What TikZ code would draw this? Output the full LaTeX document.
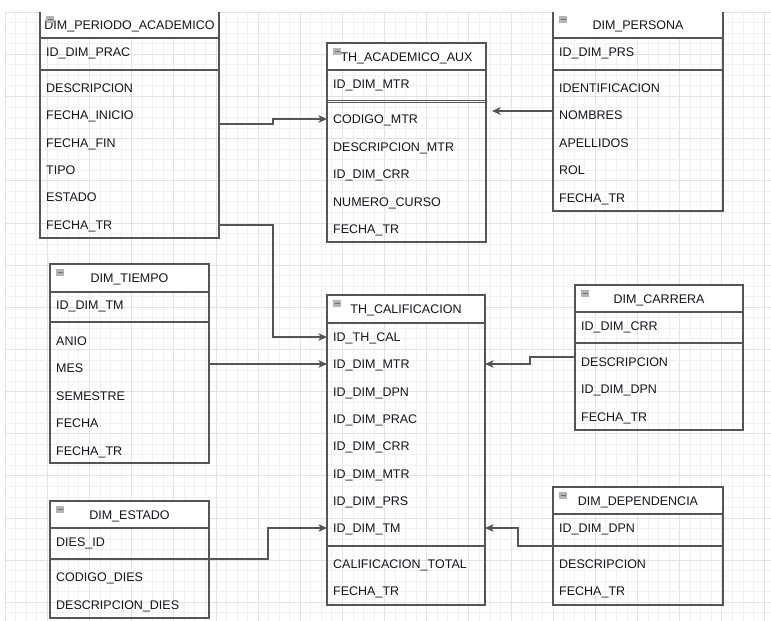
\documentclass[tikz,border=0pt]{standalone}
\usepackage{fontspec}
\setmainfont{Liberation Sans}
\usetikzlibrary{arrows.meta,calc}

\definecolor{edge}{HTML}{555555}
\definecolor{gminor}{HTML}{F1F1F1}
\definecolor{gmajor}{HTML}{E3E3E3}
\definecolor{txt}{HTML}{14141C}
\definecolor{iconfill}{HTML}{B4B4B4}
\definecolor{iconbar}{HTML}{6E6E6E}

\tikzset{
  tbl/.style={draw=edge, line width=1.1pt, anchor=north west, inner sep=0pt, outer sep=0pt},
  fld/.style={anchor=base west, inner sep=0pt, text=txt, font=\fontsize{12.5}{14}\selectfont},
  ttl/.style={anchor=base, inner sep=0pt, text=txt, font=\fontsize{12.5}{14}\selectfont},
  rule/.style={draw=edge, line width=1.1pt},
  link/.style={draw=edge, line width=1.15pt, -{Stealth[length=8.5pt,width=7.5pt,inset=2pt]}},
}

% header strip with title and collapse icon
\newcommand{\tblhead}[6]{% name, x1, x2, top, sep, title
  \fill[white] (#2,#4) rectangle (#3,#5);
  \node[ttl] (#1-title) at ({(#2+#3)/2},{(#4+#5)/2+4.5}) {#6};
  \fill[iconfill] ({#2+6},{#4+5}) rectangle ({#2+14},{#4+12});
  \draw[iconbar, line width=0.8pt] ({#2+7.5},{#4+8.5}) -- ({#2+12.5},{#4+8.5});
}
% one field row, y is the visual centre of the capitals
\newcommand{\fieldrow}[4]{% name, x1, y, text
  \node[fld] (#1) at ({#2+6},{#3+4.5}) {#4};
}

\begin{document}
\begin{tikzpicture}[x=1pt,y=-1pt]
\useasboundingbox (0,0) rectangle (771,621);

\begin{scope}
\clip (0,12) rectangle (771,621);

% background grid
\foreach \i in {0,...,73} {
  \pgfmathsetmacro{\gx}{5+10.54*\i}
  \pgfmathtruncatemacro{\maj}{mod(\i,4)==0}
  \ifnum\maj=1
    \draw[gmajor, line width=0.6pt] (\gx,12) -- (\gx,621);
  \else
    \draw[gminor, line width=0.6pt] (\gx,12) -- (\gx,621);
  \fi
}
\foreach \i in {0,...,58} {
  \pgfmathsetmacro{\gy}{12+10.54*\i}
  \pgfmathtruncatemacro{\maj}{mod(\i,4)==0}
  \ifnum\maj=1
    \draw[gmajor, line width=0.6pt] (5,\gy) -- (771,\gy);
  \else
    \draw[gminor, line width=0.6pt] (5,\gy) -- (771,\gy);
  \fi
}

% ---------- DIM_PERIODO_ACADEMICO ----------
\tblhead{periodo}{40}{219}{11}{38}{DIM\_PERIODO\_ACADEMICO}
\node[tbl, minimum width=179pt, minimum height=227pt] (periodo) at (40,11) {};
\draw[rule] (periodo.west |- 0,38) -- (periodo.east |- 0,38);
\draw[rule] (periodo.west |- 0,70) -- (periodo.east |- 0,70);
\fieldrow{p-id}{40}{52}{ID\_DIM\_PRAC}
\fieldrow{p-desc}{40}{88}{DESCRIPCION}
\fieldrow{p-ini}{40}{115}{FECHA\_INICIO}
\fieldrow{p-fin}{40}{143}{FECHA\_FIN}
\fieldrow{p-tipo}{40}{170}{TIPO}
\fieldrow{p-est}{40}{197}{ESTADO}
\fieldrow{p-ftr}{40}{225}{FECHA\_TR}

% ---------- TH_ACADEMICO_AUX ----------
\tblhead{acad}{327}{486}{43}{70}{TH\_ACADEMICO\_AUX}
\node[tbl, minimum width=159pt, minimum height=199pt] (acad) at (327,43) {};
\draw[rule] (acad.west |- 0,70) -- (acad.east |- 0,70);
\draw[draw=edge, line width=0.8pt] (acad.west |- 0,100) -- (acad.east |- 0,100);
\draw[draw=edge, line width=0.8pt] (acad.west |- 0,102.2) -- (acad.east |- 0,102.2);
\fieldrow{a-id}{327}{84}{ID\_DIM\_MTR}
\fieldrow{a-cod}{327}{119}{CODIGO\_MTR}
\fieldrow{a-desc}{327}{147}{DESCRIPCION\_MTR}
\fieldrow{a-crr}{327}{174}{ID\_DIM\_CRR}
\fieldrow{a-num}{327}{202}{NUMERO\_CURSO}
\fieldrow{a-ftr}{327}{229}{FECHA\_TR}

% ---------- DIM_PERSONA ----------
\tblhead{persona}{553}{723}{11}{38}{DIM\_PERSONA}
\node[tbl, minimum width=170pt, minimum height=200pt] (persona) at (553,11) {};
\draw[rule] (persona.west |- 0,38) -- (persona.east |- 0,38);
\draw[rule] (persona.west |- 0,70) -- (persona.east |- 0,70);
\fieldrow{r-id}{553}{52}{ID\_DIM\_PRS}
\fieldrow{r-ide}{553}{88}{IDENTIFICACION}
\fieldrow{r-nom}{553}{115}{NOMBRES}
\fieldrow{r-ape}{553}{143}{APELLIDOS}
\fieldrow{r-rol}{553}{170}{ROL}
\fieldrow{r-ftr}{553}{198}{FECHA\_TR}

% ---------- DIM_TIEMPO ----------
\tblhead{tiempo}{50}{209}{264}{292}{DIM\_TIEMPO}
\node[tbl, minimum width=159pt, minimum height=199pt] (tiempo) at (50,264) {};
\draw[rule] (tiempo.west |- 0,292) -- (tiempo.east |- 0,292);
\draw[rule] (tiempo.west |- 0,322) -- (tiempo.east |- 0,322);
\fieldrow{t-id}{50}{305}{ID\_DIM\_TM}
\fieldrow{t-anio}{50}{341}{ANIO}
\fieldrow{t-mes}{50}{368}{MES}
\fieldrow{t-sem}{50}{396}{SEMESTRE}
\fieldrow{t-fec}{50}{423}{FECHA}
\fieldrow{t-ftr}{50}{451}{FECHA\_TR}

% ---------- TH_CALIFICACION ----------
\tblhead{calif}{327}{485}{295}{323}{TH\_CALIFICACION}
\node[tbl, minimum width=158pt, minimum height=310pt] (calif) at (327,295) {};
\draw[rule] (calif.west |- 0,323) -- (calif.east |- 0,323);
\draw[rule] (calif.west |- 0,546) -- (calif.east |- 0,546);
\fieldrow{c-cal}{327}{337}{ID\_TH\_CAL}
\fieldrow{c-mtr}{327}{364}{ID\_DIM\_MTR}
\fieldrow{c-dpn}{327}{392}{ID\_DIM\_DPN}
\fieldrow{c-prac}{327}{419}{ID\_DIM\_PRAC}
\fieldrow{c-crr}{327}{446}{ID\_DIM\_CRR}
\fieldrow{c-mtr2}{327}{474}{ID\_DIM\_MTR}
\fieldrow{c-prs}{327}{501}{ID\_DIM\_PRS}
\fieldrow{c-tm}{327}{528}{ID\_DIM\_TM}
\fieldrow{c-tot}{327}{564}{CALIFICACION\_TOTAL}
\fieldrow{c-ftr}{327}{591}{FECHA\_TR}

% ---------- DIM_CARRERA ----------
\tblhead{carrera}{575}{743}{285}{312}{DIM\_CARRERA}
\node[tbl, minimum width=168pt, minimum height=145pt] (carrera) at (575,285) {};
\draw[rule] (carrera.west |- 0,312) -- (carrera.east |- 0,312);
\draw[rule] (carrera.west |- 0,343) -- (carrera.east |- 0,343);
\fieldrow{k-id}{575}{326}{ID\_DIM\_CRR}
\fieldrow{k-desc}{575}{362}{DESCRIPCION}
\fieldrow{k-dpn}{575}{389}{ID\_DIM\_DPN}
\fieldrow{k-ftr}{575}{417}{FECHA\_TR}

% ---------- DIM_DEPENDENCIA ----------
\tblhead{dep}{553}{723}{487}{514}{DIM\_DEPENDENCIA}
\node[tbl, minimum width=170pt, minimum height=118pt] (dep) at (553,487) {};
\draw[rule] (dep.west |- 0,514) -- (dep.east |- 0,514);
\draw[rule] (dep.west |- 0,546) -- (dep.east |- 0,546);
\fieldrow{d-id}{553}{528}{ID\_DIM\_DPN}
\fieldrow{d-desc}{553}{564}{DESCRIPCION}
\fieldrow{d-ftr}{553}{591}{FECHA\_TR}

% ---------- DIM_ESTADO ----------
\tblhead{estado}{50}{209}{501}{528}{DIM\_ESTADO}
\node[tbl, minimum width=159pt, minimum height=117pt] (estado) at (50,501) {};
\draw[rule] (estado.west |- 0,528) -- (estado.east |- 0,528);
\draw[rule] (estado.west |- 0,559) -- (estado.east |- 0,559);
\fieldrow{e-id}{50}{542}{DIES\_ID}
\fieldrow{e-cod}{50}{577}{CODIGO\_DIES}
\fieldrow{e-desc}{50}{605}{DESCRIPCION\_DIES}

% ---------- relationships ----------
\draw[link] (periodo.east |- 0,124) -| (273,119) -- (acad.west |- 0,119);
\draw[link] (periodo.east |- 0,225) -| (273,337) -- (calif.west |- 0,337);
\draw[link] (persona.west |- 0,111) -- ($(acad.east |- 0,111)+(6,0)$);
\draw[link] (tiempo.east |- 0,364) -- (calif.west |- 0,364);
\draw[link] (carrera.west |- 0,357) -| (530,364) -- (calif.east |- 0,364);
\draw[link] (dep.west |- 0,546) -| (518,528) -- (calif.east |- 0,528);
\draw[link] (estado.east |- 0,559) -| (268,528) -- (calif.west |- 0,528);
\end{scope}
\end{tikzpicture}
\end{document}
